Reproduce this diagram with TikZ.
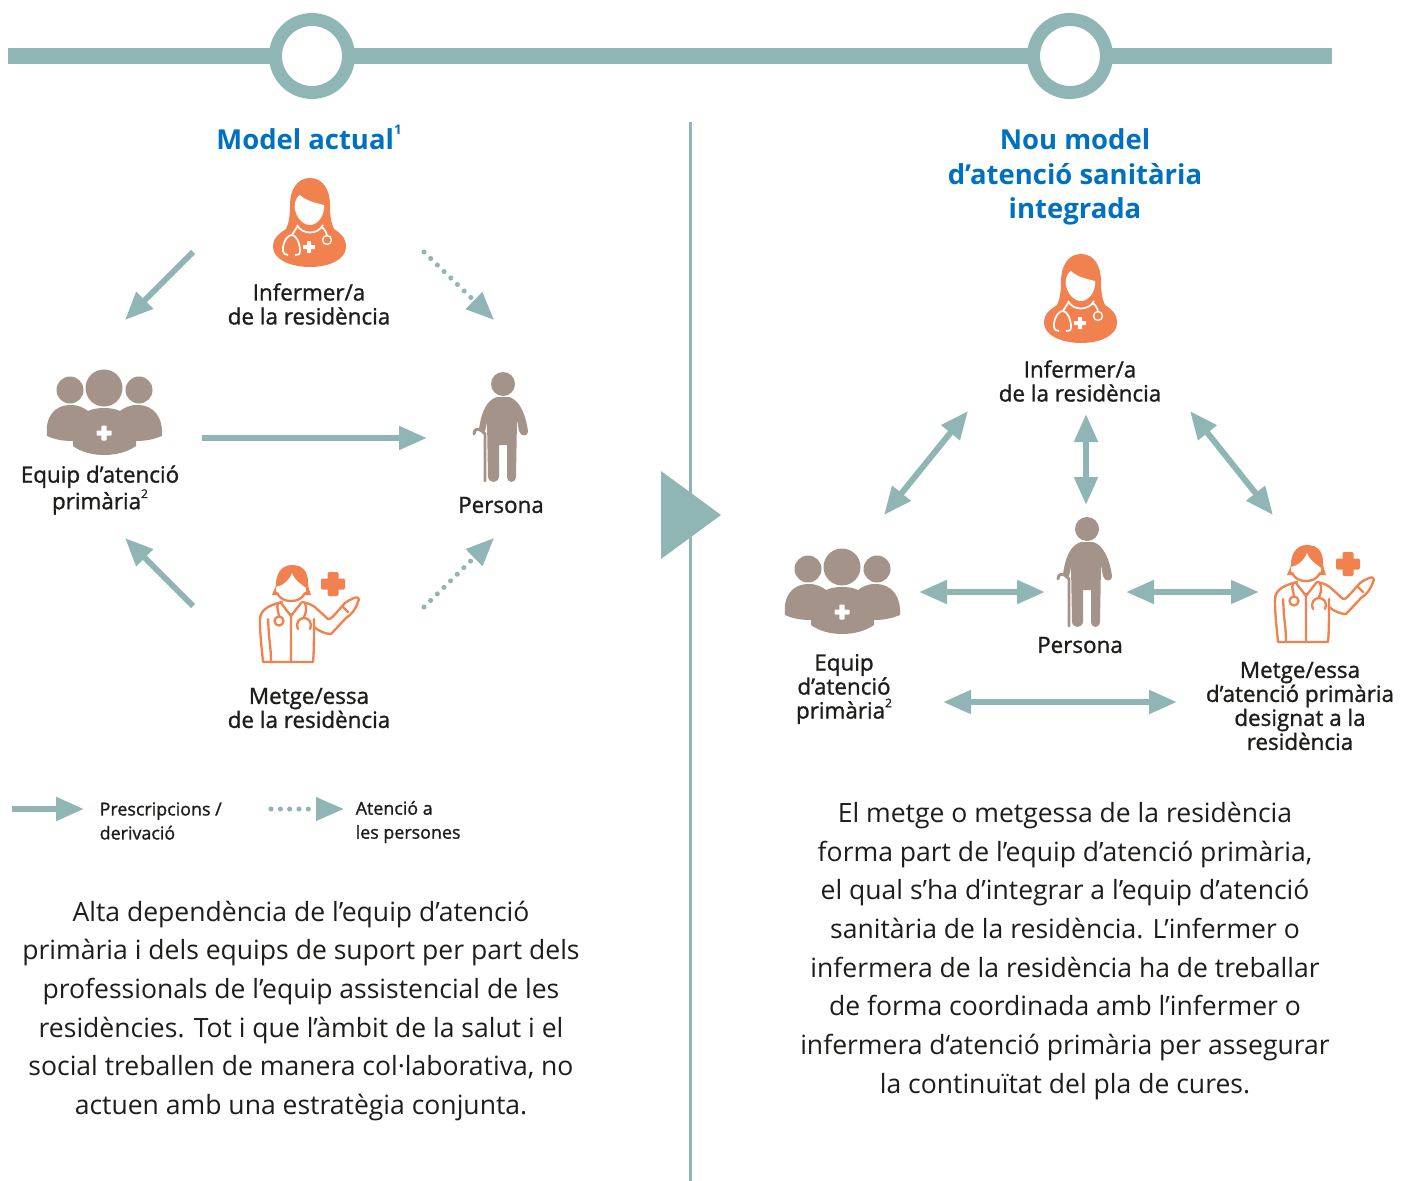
\documentclass[tikz,border=0pt]{standalone}
\usepackage{fontspec}
\setmainfont{Open Sans}
\newfontfamily\labfont[FakeBold=1.2]{Open Sans}
\usetikzlibrary{arrows.meta}
\definecolor{teal}{HTML}{8FB6B5}
\definecolor{orng}{HTML}{F28150}
\definecolor{taupe}{HTML}{A39389}
\definecolor{blu}{HTML}{0070C0}
\definecolor{ink}{HTML}{1D1D1B}
\tikzset{
 flow/.style={draw=teal,line width=4.5pt,-{Triangle[length=21pt,width=17pt]}},
 both/.style={draw=teal,line width=4.5pt,{Triangle[length=21pt,width=17pt]}-{Triangle[length=21pt,width=17pt]}},
 dots/.style={draw=teal,line width=3.8pt,line cap=round,dash pattern=on 0pt off 7pt,-{Triangle[length=21pt,width=17pt]}},
 lab/.style={align=center,text=ink,font=\labfont\fontsize{16.8}{18}\selectfont},
 leg/.style={align=left,text=ink,font=\labfont\fontsize{13.4}{18}\selectfont,anchor=west},
 ttl/.style={align=center,text=blu,font=\fontsize{20.6}{26}\selectfont\bfseries},
 body/.style={align=center,text=ink,font=\fontsize{19.9}{29}\selectfont},
 ring/.style={circle,draw=teal,fill=white,line width=9.75pt,minimum size=54.75pt,inner sep=0pt,outer sep=0pt},
 nurse/.pic={
  \fill[orng] (0,-45) .. controls (-13,-45) and (-20,-33) .. (-20,-18) .. controls (-20,-8) and (-21,0) .. (-24,6)
    .. controls (-30,10) and (-37,14) .. (-37,24) .. controls (-37,36) and (-20,44) .. (0,44)
    .. controls (20,44) and (36,36) .. (36,24) .. controls (36,14) and (30,10) .. (24,6)
    .. controls (21,0) and (20,-8) .. (20,-18) .. controls (20,-33) and (13,-45) .. (0,-45) -- cycle;
  \fill[white] (-10,-28) .. controls (-4,-22) and (6,-20) .. (14,-18) .. controls (15,-8) and (8,2) .. (0,2) .. controls (-9,2) and (-17,-10) .. (-15,-20) .. controls (-14,-24) and (-12,-27) .. (-10,-28) -- cycle;
  \draw[white,line width=1.3pt] (-13,2) .. controls (-8,12) and (8,12) .. (13,2);
  \draw[white,line width=1.3pt] (-13,4) -- (-18,12);
  \draw[white,line width=1.3pt] (-22,32) .. controls (-28,32) and (-28,26) .. (-26,20) .. controls (-24,14) and (-20,12) .. (-18,12) .. controls (-14,12) and (-10,20) .. (-10,28) .. controls (-10,32) and (-12,32) .. (-15,32);
  \draw[white,line width=1.3pt] (12,4) .. controls (15,7) and (17,10) .. (17,14);
  \fill[white] (17,17) circle (5.2);
  \fill[orng] (17,17) circle (3.6);
  \fill[white,rounded corners=.5pt] (-3,18) rectangle (1,30);
  \fill[white,rounded corners=.5pt] (-7,22) rectangle (5,26);
 },
 doctor/.pic={
  \fill[orng] (-13,-47) .. controls (-25,-47) and (-29,-36) .. (-29,-28) .. controls (-29,-24) and (-32,-21) .. (-33,-17) -- (6,-17) .. controls (5,-21) and (3,-24) .. (3,-30) .. controls (3,-40) and (-2,-47) .. (-13,-47) -- cycle;
  \fill[white] (-13,-39) .. controls (-11,-32) and (-4,-28) .. (1,-24) .. controls (2,-17) and (-6,-12) .. (-14,-12) .. controls (-22,-12) and (-30,-17) .. (-29,-25) .. controls (-23,-26) and (-16,-31) .. (-13,-39) -- cycle;
  \begin{scope}[draw=orng,line width=1.75pt,line cap=round,line join=round]
   \draw (-28,-19) .. controls (-25,-13) and (-20,-11) .. (-14,-11) .. controls (-8,-11) and (-3,-13) .. (0,-19);
   \draw (-23,-10) .. controls (-35,-7) and (-45,-3) .. (-45,8) .. controls (-45,25) and (-43,38) .. (-42,50) -- (8,50) .. controls (9,40) and (9,25) .. (9,7);
   \draw (-3,-10) .. controls (3,-9) and (8,-7) .. (12,-3) -- (23,7) .. controls (26,8) and (30,2) .. (40,-9) .. controls (42,-11) and (45,-12) .. (49,-14) .. controls (53,-16) and (55,-13) .. (53,-10) .. controls (51,-3) and (46,3) .. (41,6) -- (26,22) .. controls (20,22) and (14,19) .. (9,15);
   \draw (38,-5) -- (43,0);
   \draw (-37,7) -- (-36,24) .. controls (-35,32) and (-34,40) .. (-34,50);
   \draw (-14,50) -- (-14,2) (-24,-9) -- (-14,4) -- (-4,-9);
   \draw (-27,-9) .. controls (-29,-4) and (-26,1) .. (-26,4.5);
   \draw (-26,9) circle (4.5);
   \draw (0,-9) .. controls (2,-4) and (1,1) .. (-1,5);
   \draw (-7,17) .. controls (-10,10) and (-5,6) .. (-1,6) .. controls (3,6) and (8,10) .. (5,17);
  \end{scope}
  \fill[orng,rounded corners=1pt] (22.5,-40) rectangle (33.5,-16);
  \fill[orng,rounded corners=1pt] (16,-33.5) rectangle (40,-22.5);
 },
 team/.pic={
  \fill[taupe] (-34,-22) circle (13.5) (35,-22) circle (13.5) (0,-24) circle (18.5);
  \fill[taupe] (-57,24) .. controls (-59,5) and (-50,-7) .. (-33,-7) .. controls (-25,-7) and (-20,-4) .. (-16,-1) .. controls (-8,-5) and (8,-5) .. (16,-1) .. controls (20,-4) and (25,-7) .. (33,-7) .. controls (50,-7) and (59,5) .. (58,24)
    .. controls (48,28) and (40,29) .. (32,29) -- (32,34) .. controls (15,46) and (-15,46) .. (-31,34) -- (-31,29) .. controls (-40,29) and (-48,28) .. (-57,24) -- cycle;
  \fill[white,rounded corners=.5pt] (-2.6,13.5) rectangle (2.6,28.5);
  \fill[white,rounded corners=.5pt] (-7.5,18.5) rectangle (7.5,23.5);
 },
 elder/.pic={
  \fill[taupe] (0,-44) circle (12);
  \fill[taupe] (-6,-31) .. controls (-17,-28) and (-22,-14) .. (-24,1) .. controls (-24,4) and (-20,5) .. (-18,3) .. controls (-17,0) and (-16.5,-3) .. (-16,-6)
    -- (-15,48) .. controls (-15,56) and (-4,56) .. (-4,48) -- (-4,17) -- (4,17) -- (4,48) .. controls (4,56) and (13,56) .. (13,48) -- (14,-8) .. controls (15,-3) and (15.5,1) .. (16,3) .. controls (17,9) and (26,9) .. (25,3) .. controls (23,-12) and (17,-28) .. (6,-31) -- cycle;
  \draw[taupe,line width=2.2pt,line cap=round] (-29,6) .. controls (-29,1) and (-25,0) .. (-21,3) -- (-18,6) -- (-18,53);
  },
}
\begin{document}
\begin{tikzpicture}[x=.75pt,y=-.75pt]
\useasboundingbox (0,0) rectangle (1413,1181);
% timeline
\coordinate (barL) at (8,56); \coordinate (barR) at (1332,56);
\draw[teal,line width=12pt] (barL) -- (barR);
\node[ring] (ringA) at (312,56) {};
\node[ring] (ringB) at (1070,56) {};
% divider
\coordinate (divT) at (690.5,122); \coordinate (divB) at (690.5,1181);
\draw[teal,line width=2pt] (divT) -- (divB);
\fill[teal] (661,471) -- (721,515) -- (661,559) -- cycle;
% LEFT
\node[ttl] (t1) at (309,137) {Model actual\raisebox{.55em}{\fontsize{10}{10}\selectfont 1}};
\pic at (310,223) {nurse};
\node[lab] (n1) at (309,304) {Infermer/a\\de la residència};
\pic at (104,412) {team};
\node[lab] (g1) at (100,490) {Equip d’atenció\\primària\raisebox{.5em}{\fontsize{9}{9}\selectfont 2}};
\pic at (503,428) {elder};
\node[lab] (p1) at (501,505) {Persona};
\pic at (305,612) {doctor};
\node[lab] (d1) at (309,708) {Metge/essa\\de la residència};
\coordinate (a1s) at (193,252); \coordinate (a1e) at (125,320);
\coordinate (a2s) at (424,252); \coordinate (a2e) at (494,320);
\coordinate (a3s) at (202,438); \coordinate (a3e) at (427,438);
\coordinate (a4s) at (193,606); \coordinate (a4e) at (125,538);
\coordinate (a5s) at (424,607); \coordinate (a5e) at (494,538);
\draw[flow] (a1s) -- (a1e);
\draw[dots] (a2s) -- (a2e);
\draw[flow] (a3s) -- (a3e);
\draw[flow] (a4s) -- (a4e);
\draw[dots] (a5s) -- (a5e);
% legend
\coordinate (l1s) at (12,809); \coordinate (l1e) at (84,809);
\coordinate (l2s) at (271,809); \coordinate (l2e) at (344,809);
\draw[flow] (l1s) -- (l1e);
\draw[dots] (l2s) -- (l2e);
\node[leg] (lt1) at (95,821) {Prescripcions /\\derivació};
\node[leg] (lt2) at (351,822) {Atenció a\\les persones};
\node[body] (b1) at (301,1011) {Alta dependència de l’equip d’atenció\\primària i dels equips de suport per part dels\\professionals de l’equip assistencial de les\\residències. Tot i que l’àmbit de la salut i el\\social treballen de manera col·laborativa, no\\actuen amb una estratègia conjunta.};
% RIGHT
\node[ttl] (t2) at (1075,177) {Nou model\\d’atenció sanitària\\integrada};
\pic at (1081,299) {nurse};
\node[lab] (n2) at (1080,381) {Infermer/a\\de la residència};
\pic at (842,591) {team};
\node[lab] (g2) at (844,689) {Equip\\d’atenció\\primària\raisebox{.5em}{\fontsize{9}{9}\selectfont 2}};
\pic at (1087,573) {elder};
\node[lab] (p2) at (1080,645) {Persona};
\pic at (1320,592) {doctor};
\node[lab] (d2) at (1300,706) {Metge/essa\\d’atenció primària\\designat a la\\residència};
\coordinate (r1s) at (968,411); \coordinate (r1e) at (884,515);
\coordinate (r2s) at (1086,414); \coordinate (r2e) at (1086,505);
\coordinate (r3s) at (1190,411); \coordinate (r3e) at (1273,515);
\coordinate (r4s) at (919,592); \coordinate (r4e) at (1045,592);
\coordinate (r5s) at (1126,592); \coordinate (r5e) at (1259,592);
\coordinate (r6s) at (943,702); \coordinate (r6e) at (1177,702);
\foreach \a/\b in {r1s/r1e,r2s/r2e,r3s/r3e,r4s/r4e,r5s/r5e,r6s/r6e} \draw[both] (\a) -- (\b);
\node[body] (b2) at (1065,951) {El metge o metgessa de la residència\\forma part de l’equip d’atenció primària,\\el qual s’ha d’integrar a l’equip d’atenció\\sanitària de la residència. L’infermer o\\infermera de la residència ha de treballar\\de forma coordinada amb l’infermer o\\infermera d‘atenció primària per assegurar\\la continuïtat del pla de cures.};
\end{tikzpicture}
\end{document}
